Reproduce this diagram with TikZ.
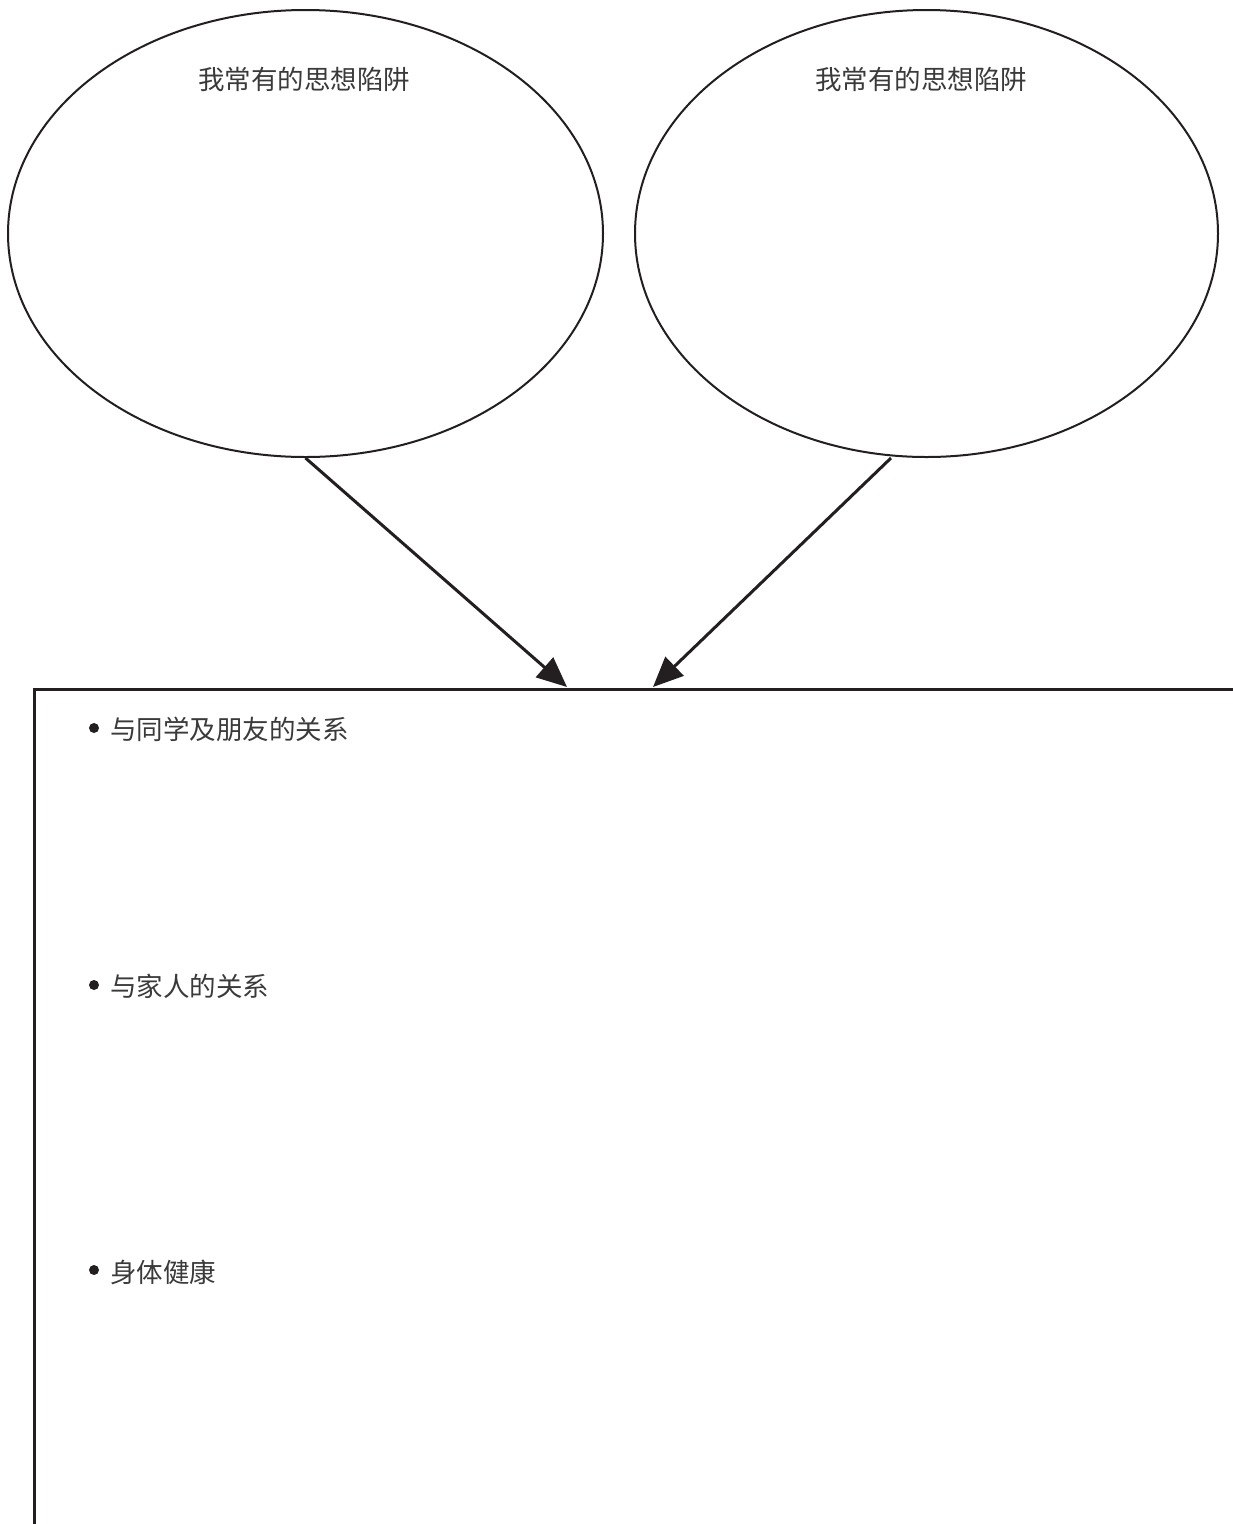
\documentclass[tikz,border=0pt]{standalone}
\usepackage{fontspec}
\newfontfamily\cjk{Noto Sans CJK SC}
\usetikzlibrary{shapes.geometric,arrows.meta}
\definecolor{ink}{HTML}{231F20}
\definecolor{txt}{HTML}{3A3A3A}
\tikzset{
  bubble/.style={draw=ink,line width=2pt,ellipse,inner sep=0pt},
  label/.style={font=\cjk\fontsize{26.5}{31}\selectfont,text=txt,inner sep=0pt},
  link/.style={draw=ink,line width=3pt,-{Triangle[length=30pt,width=26pt]}},
  frame/.style={draw=ink,line width=2.5pt}
}
\begin{document}
\begin{tikzpicture}[x=1pt,y=-1pt]
\clip (0,0) rectangle (1233,1524);
\fill[white] (0,0) rectangle (1233,1524);
\node[bubble,minimum width=595pt,minimum height=447pt] (e1) at (305.5,233.5) {};
\node[bubble,minimum width=583pt,minimum height=447pt] (e2) at (926.5,233.5) {};
\node[label] (l1) at (304,79) {我常有的思想陷阱};
\node[label] (l2) at (921,79) {我常有的思想陷阱};
\node[frame,minimum width=1260pt,minimum height=900pt,anchor=north west,inner sep=0pt] (box) at (33,688) {};
\coordinate (s2) at (891,458);
\coordinate (t1) at (567,687);
\coordinate (t2) at (653,687);
\draw[link] (e1.south) -- (t1);
\draw[link] (s2) -- (t2);
\node[label,anchor=west] (b1) at (110,729) {与同学及朋友的关系};
\node[label,anchor=west] (b2) at (110,986) {与家人的关系};
\node[label,anchor=west] (b3) at (110,1272) {身体健康};
\fill[ink] (94,728) circle (5pt);
\fill[ink] (94,985) circle (5pt);
\fill[ink] (94,1270) circle (5pt);
\end{tikzpicture}
\end{document}
